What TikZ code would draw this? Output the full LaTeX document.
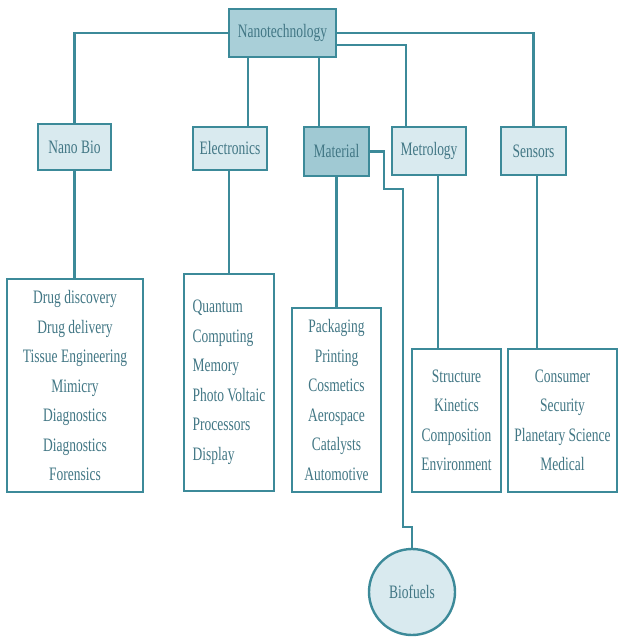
\documentclass[tikz,border=0pt]{standalone}
\usepackage{fontspec}
\setmainfont[FakeStretch=0.71]{Liberation Serif}
\definecolor{linec}{HTML}{3C8A99}
\definecolor{darkf}{HTML}{A9CFD8}
\definecolor{matf}{HTML}{A0C9D3}
\definecolor{lightf}{HTML}{D9EAEF}
\definecolor{txtc}{HTML}{427785}
\begin{document}
\begin{tikzpicture}[x=1pt,y=-1pt,
  box/.style={draw=linec, line width=2.4pt, text=txtc, font=\fontsize{19}{29.5}\selectfont, inner sep=0pt, align=center},
  catbox/.style={box, fill=lightf},
  listbox/.style={box, fill=white},
  conn/.style={draw=linec, line width=2.2pt}]
\useasboundingbox (0,0) rectangle (618,639);
% top
\node[box, fill=darkf, minimum width=107, minimum height=48] (nano) at (282.5,33) {Nanotechnology};
% categories
\node[catbox, minimum width=73, minimum height=46] (bio) at (74.5,147) {Nano Bio};
\node[catbox, minimum width=74, minimum height=43] (elec) at (230,148.5) {Electronics};
\node[box, fill=matf, minimum width=65, minimum height=49] (mat) at (336.5,151.5) {Material};
\node[catbox, minimum width=74, minimum height=48] (met) at (429,151) {Metrology};
\node[catbox, minimum width=65, minimum height=48] (sen) at (533.5,151) {Sensors};
% lists
\node[listbox, minimum width=136, minimum height=213] (bioL) at (75,385.5)
  {Drug discovery\\Drug delivery\\Tissue Engineering\\Mimicry\\Diagnostics\\Diagnostics\\Forensics};
\node[listbox, align=left, minimum width=90, minimum height=217] (elL) at (229,382.5)
  {Quantum\\Computing\\Memory\\Photo Voltaic\\Processors\\Display};
\node[listbox, minimum width=89, minimum height=184] (matL) at (336.5,400)
  {Packaging\\Printing\\Cosmetics\\Aerospace\\Catalysts\\Automotive};
\node[listbox, minimum width=89, minimum height=143] (metL) at (456.5,420.5)
  {Structure\\Kinetics\\Composition\\Environment};
\node[listbox, minimum width=109, minimum height=143] (senL) at (562.5,420.5)
  {Consumer\\Security\\Planetary Science\\Medical};
\node[box, circle, fill=lightf, minimum size=86] (fuel) at (412,592) {Biofuels};
% connectors
\draw[conn] (nano.west) -| (bio.north);
\draw[conn] (nano.east) -| (sen.north);
\draw[conn] ([yshift=-12pt]nano.east) -| ([xshift=-23pt]met.north);
\draw[conn] ([xshift=18pt]elec.north |- nano.south) -- ([xshift=18pt]elec.north);
\draw[conn] ([xshift=-17.5pt]mat.north |- nano.south) -- ([xshift=-17.5pt]mat.north);
\draw[conn] (bio.south) -- (bio.south |- bioL.north);
\draw[conn] (elL.north |- elec.south) -- (elL.north);
\draw[conn] (mat.south) -- (mat.south |- matL.north);
\draw[conn] ([xshift=9pt]met.south) -- ([xshift=9pt]met.south |- metL.north);
\draw[conn] ([xshift=3.5pt]sen.south) -- ([xshift=3.5pt]sen.south |- senL.north);
\coordinate (j1) at (384,189);
\coordinate (j2) at (403,527);
\draw[conn] (mat.east) -| (j1) -- (j1 -| j2) -- (j2) -| (fuel.north);
\end{tikzpicture}
\end{document}
